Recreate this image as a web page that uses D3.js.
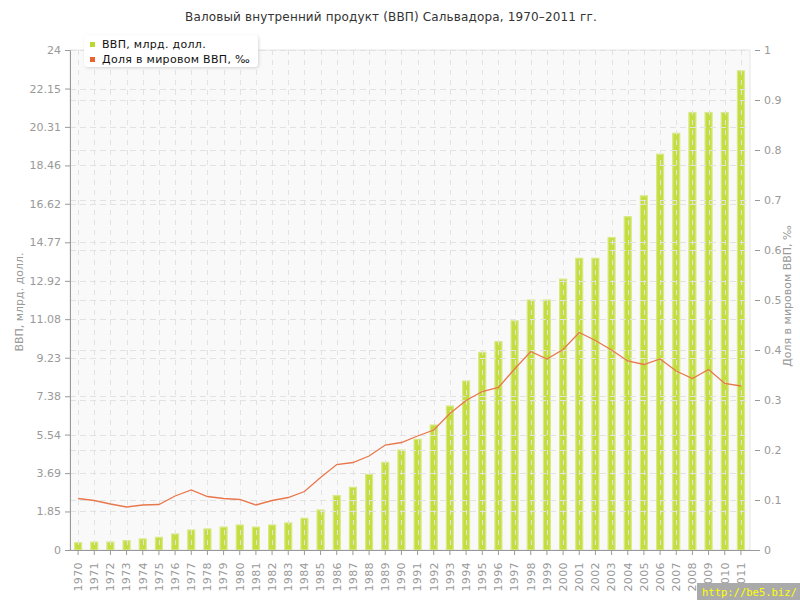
<!DOCTYPE html>
<html>
<head>
<meta charset="utf-8">
<script src="https://cdn.jsdelivr.net/npm/d3@7"></script>
<style>
  body { margin: 0; background: #fff; }
  svg { font-family: "DejaVu Sans", Verdana, sans-serif; }
</style>
</head>
<body>
<svg width="800" height="600"></svg>
<script>
// data
let years = d3.range(1970, 2012).map(String);
let gdp = [0.35, 0.38, 0.38, 0.45, 0.53, 0.61, 0.77, 0.96, 1.01, 1.10,
           1.20, 1.10, 1.20, 1.30, 1.52, 1.92, 2.61, 3.01, 3.63, 4.21,
           4.80, 5.31, 6.00, 6.91, 8.11, 9.49, 10.0, 11.0, 12.0, 12.0,
           13.0, 14.0, 14.0, 15.0, 16.0, 17.0, 19.0, 20.0, 21.0, 21.0,
           21.0, 23.0];
let share = [0.103, 0.099, 0.092, 0.086, 0.090, 0.091, 0.108, 0.120, 0.107, 0.103,
             0.101, 0.090, 0.099, 0.105, 0.117, 0.145, 0.171, 0.175, 0.188, 0.210,
             0.215, 0.228, 0.240, 0.273, 0.299, 0.317, 0.325, 0.362, 0.397, 0.382,
             0.401, 0.435, 0.419, 0.400, 0.378, 0.371, 0.382, 0.358, 0.343, 0.361,
             0.333, 0.328];
let leftTicks = ["0", "1.85", "3.69", "5.54", "7.38", "9.23", "11.08", "12.92",
                 "14.77", "16.62", "18.46", "20.31", "22.15", "24"];
let rightTicks = ["0", "0.1", "0.2", "0.3", "0.4", "0.5", "0.6", "0.7", "0.8", "0.9", "1"];

let title = "Валовый внутренний продукт (ВВП) Сальвадора, 1970–2011 гг.";
let leftTitle = "ВВП, млрд. долл.";
let rightTitle = "Доля в мировом ВВП, ‰";

let svg = d3.select("svg");
let plotL = 70, plotR = 750, plotT = 50, plotB = 550;

let x = d3.scaleBand().domain(years).range([plotL, plotR - 1]);
let y = d3.scaleLinear().domain([0, 24]).range([plotB, plotT]);
let y2 = d3.scaleLinear().domain([0, 1]).range([plotB, plotT]);

let gridColor = "#e2e2e2";

// title
svg.append("text")
    .attr("x", 391).attr("y", 21)
    .attr("text-anchor", "middle")
    .style("font-size", "12px")
    .style("letter-spacing", "0.15px")
    .style("fill", "#333")
    .text(title);

// plot background
svg.append("rect")
    .attr("x", plotL).attr("y", plotT)
    .attr("width", plotR - plotL).attr("height", plotB - plotT)
    .style("fill", "#f9f9f9")
    .style("stroke", "#e6e6e6");

// bars
svg.append("g").selectAll("rect")
    .data(gdp)
    .enter().append("rect")
    .attr("x", (d, i) => x(years[i]) + x.bandwidth() / 2 - 3.5)
    .attr("y", d => y(d))
    .attr("width", 7)
    .attr("height", d => plotB - y(d))
    .style("fill", "#c4de42")
    .style("stroke", "#d7ea85")
    .style("stroke-width", 1.2);

// grid on top of the bars
let grid = svg.append("g").attr("class", "grid")
    .style("stroke", gridColor)
    .style("stroke-dasharray", "6,4");
grid.selectAll("line.h1")
    .data(leftTicks.slice(1))
    .enter().append("line")
    .attr("x1", plotL).attr("x2", plotR)
    .attr("y1", d => Math.round(y(+d)) + 0.5)
    .attr("y2", d => Math.round(y(+d)) + 0.5);
grid.selectAll("line.h2")
    .data(rightTicks.slice(1, -1))
    .enter().append("line")
    .attr("x1", plotL).attr("x2", plotR)
    .attr("y1", d => Math.round(y2(+d)) + 0.5)
    .attr("y2", d => Math.round(y2(+d)) + 0.5);
grid.selectAll("line.v")
    .data(years)
    .enter().append("line")
    .attr("x1", d => Math.round(x(d) + x.bandwidth() / 2) + 0.5)
    .attr("x2", d => Math.round(x(d) + x.bandwidth() / 2) + 0.5)
    .attr("y1", plotT).attr("y2", plotB)
    .style("stroke-dasharray", "5,5");

// share line
let line = d3.line()
    .x((d, i) => x(years[i]) + x.bandwidth() / 2)
    .y(d => y2(d));
svg.append("path")
    .datum(share)
    .attr("d", line)
    .style("fill", "none")
    .style("stroke", "#e8774c")
    .style("stroke-width", 1.3);

// axes
let axisColor = "#999";
let leftAxis = svg.append("g")
    .attr("transform", `translate(${plotL},0)`)
    .call(d3.axisLeft(y).tickValues(leftTicks.map(Number))
        .tickFormat((d, i) => leftTicks[i]).tickSize(5).tickPadding(4));
let rightAxis = svg.append("g")
    .attr("transform", `translate(${plotR + 5},0)`)
    .call(d3.axisRight(y2).tickValues(rightTicks.map(Number))
        .tickFormat((d, i) => rightTicks[i]).tickSize(5).tickPadding(4));
let bottomAxis = svg.append("g")
    .attr("transform", `translate(0,${plotB})`)
    .call(d3.axisBottom(x).tickSize(5).tickSizeOuter(0));

rightAxis.select(".domain").remove();
bottomAxis.select(".domain").attr("d", `M${plotL},0.5H${plotR + 5}`);

[leftAxis, rightAxis, bottomAxis].forEach(a => {
    a.selectAll("path, line").style("stroke", axisColor);
    a.selectAll("text")
        .style("fill", "#999")
        .style("font-size", "11px")
        .style("font-family", "'DejaVu Sans', Verdana, sans-serif");
});

bottomAxis.selectAll("text")
    .attr("transform", "rotate(-90)")
    .attr("text-anchor", "end")
    .attr("x", -12)
    .attr("y", 0)
    .attr("dy", "0.35em")
    .style("letter-spacing", "0.4px");

// axis titles
svg.append("text")
    .attr("transform", "translate(23,302) rotate(-90)")
    .attr("text-anchor", "middle")
    .style("font-size", "11px")
    .style("fill", "#999")
    .text(leftTitle);
svg.append("text")
    .attr("transform", "translate(791,296) rotate(-90)")
    .attr("text-anchor", "middle")
    .style("font-size", "11px")
    .style("fill", "#999")
    .text(rightTitle);

// legend
let defs = svg.append("defs");
let shadow = defs.append("filter").attr("id", "shadow")
    .attr("x", "-10%").attr("y", "-20%").attr("width", "120%").attr("height", "150%");
shadow.append("feDropShadow")
    .attr("dx", 1).attr("dy", 1).attr("stdDeviation", 1.5)
    .attr("flood-color", "#000").attr("flood-opacity", 0.15);

let legend = svg.append("g").attr("transform", "translate(84,35)");
legend.append("rect")
    .attr("width", 174).attr("height", 32).attr("rx", 4)
    .style("fill", "#fff")
    .attr("filter", "url(#shadow)");
let legendItems = [
    {name: "ВВП, млрд. долл.", color: "#b9d930"},
    {name: "Доля в мировом ВВП, ‰", color: "#e8632e"}
];
legend.selectAll("g.item")
    .data(legendItems)
    .enter().append("g")
    .attr("transform", (d, i) => `translate(6,${7 + i * 15})`)
    .each(function(d) {
        let g = d3.select(this);
        g.append("rect").attr("width", 5).attr("height", 5).style("fill", d.color);
        g.append("text").attr("x", 12).attr("y", 6)
            .style("font-size", "11px").style("letter-spacing", "0.3px")
            .style("fill", "#111").text(d.name);
    });

// watermark
svg.append("rect")
    .attr("x", 697).attr("y", 583).attr("width", 103).attr("height", 17)
    .style("fill", "#aaa");
svg.append("text")
    .attr("x", 702).attr("y", 596)
    .style("font-family", "'DejaVu Sans Mono', monospace")
    .style("font-size", "10.5px")
    .style("fill", "#ffff00")
    .text("http://be5.biz/");
</script>
</body>
</html>
